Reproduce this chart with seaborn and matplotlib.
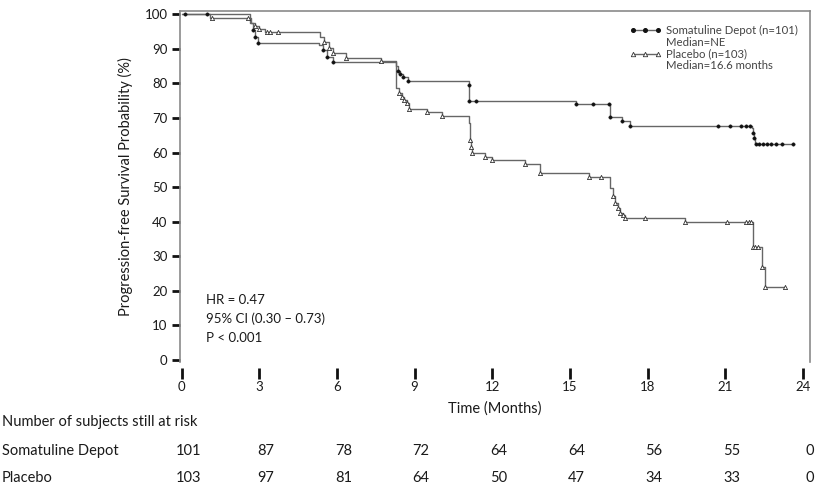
import numpy as np
import pandas as pd
import matplotlib
matplotlib.use("Agg")
import matplotlib.pyplot as plt
import matplotlib.transforms as mtransforms
from matplotlib.lines import Line2D
import seaborn as sns

# ---------------- data ----------------
soma_event_t = [0, 2.65, 2.75, 2.85, 2.97, 5.32, 5.45, 5.6, 5.86, 8.3, 8.36, 8.45, 8.55, 8.74,
                11.09, 11.12, 15.24, 16.56, 17.0, 17.3, 22.04, 22.08, 22.11, 22.15]
soma_event_s = [100, 97.5, 95.5, 93.5, 91.8, 91.0, 89.8, 87.7, 86.2, 84.9, 83.7, 82.8, 81.8, 80.6,
                79.6, 75.0, 73.9, 70.2, 69.1, 67.7, 67.1, 65.6, 64.1, 62.5]
soma_mark_t = [0.15, 1.0, 2.75, 2.85, 2.97, 5.45, 5.6, 5.86, 8.36, 8.45, 8.55, 8.74, 11.09, 11.12,
               11.37, 15.24, 15.88, 16.5, 16.56, 17.0, 17.3, 20.7, 21.18, 21.6, 21.78, 21.96,
               22.08, 22.11, 22.2, 22.3, 22.45, 22.6, 22.75, 22.95, 23.2, 23.6]

plac_event_t = [0, 1.1, 2.7, 2.85, 3.0, 3.23, 5.35, 5.5, 5.7, 5.86, 6.37, 7.72, 8.3, 8.4, 8.5, 8.6,
                8.7, 8.8, 9.49, 10.05, 11.09, 11.13, 11.16, 11.2, 11.7, 12.0, 13.27, 13.83, 15.73,
                16.56, 16.65, 16.75, 16.85, 16.95, 17.05, 17.14, 19.45, 22.08, 22.42, 22.55]
plac_event_s = [100, 99, 97.5, 96.5, 95.8, 94.8, 93.5, 92.0, 90.3, 88.8, 87.4, 86.5, 78.6, 77.2,
                76.2, 75.2, 74.3, 72.6, 71.8, 70.6, 68.5, 63.6, 61.5, 59.9, 58.7, 57.9, 56.6, 54.0,
                52.9, 49.6, 47.5, 45.5, 44.0, 42.5, 41.8, 41.2, 40.0, 32.6, 27.0, 21.1]
plac_mark_t = [1.18, 2.55, 2.85, 3.0, 3.3, 3.42, 3.74, 5.5, 5.7, 5.86, 6.37, 7.72, 8.4, 8.5, 8.6,
               8.7, 8.8, 9.49, 10.05, 11.13, 11.16, 11.2, 11.7, 12.0, 13.27, 13.83, 15.73, 16.2,
               16.65, 16.75, 16.85, 16.95, 17.05, 17.14, 17.9, 19.45, 21.05, 21.8, 21.9, 22.0,
               22.08, 22.15, 22.25, 22.42, 22.55, 23.3]

tick_months = [0, 3, 6, 9, 12, 15, 18, 21, 24]
y_ticks = [0, 10, 20, 30, 40, 50, 60, 70, 80, 90, 100]
risk_labels = ["Somatuline Depot", "Placebo"]
risk_soma = [101, 87, 78, 72, 64, 64, 56, 55, 0]
risk_plac = [103, 97, 81, 64, 50, 47, 34, 33, 0]
legend_labels = ["Somatuline Depot (n=101)", "Median=NE", "Placebo (n=103)", "Median=16.6 months"]
stats_text = ["HR = 0.47", "95% CI (0.30 \u2013 0.73)", "P < 0.001"]

# ---------------- helpers ----------------
def km_frame(t, s, end):
    return pd.DataFrame({"t": list(t) + [end], "s": list(s) + [s[-1]]})


def step_at(t, s, q):
    idx = np.searchsorted(np.asarray(t), np.asarray(q), side="right") - 1
    return np.asarray(s)[idx]


# ---------------- figure ----------------
sns.set_style("white")
plt.rcParams["font.family"] = ["Lato", "DejaVu Sans"]
TXT = "#1a1a1a"
LINE = "#666666"

fig = plt.figure(figsize=(8.15, 4.93), dpi=100)
ax = fig.add_axes([180 / 815, 1 - 362 / 493, 630 / 815, 351 / 493])

soma_df = km_frame(soma_event_t, soma_event_s, max(soma_mark_t))
plac_df = km_frame(plac_event_t, plac_event_s, max(plac_mark_t))

sns.lineplot(data=soma_df, x="t", y="s", ax=ax, drawstyle="steps-post", estimator=None,
             sort=False, color=LINE, lw=1.0)
sns.lineplot(data=plac_df, x="t", y="s", ax=ax, drawstyle="steps-post", estimator=None,
             sort=False, color=LINE, lw=1.0)

soma_marks = pd.DataFrame({"t": soma_mark_t,
                           "s": step_at(soma_event_t, soma_event_s, soma_mark_t)})
plac_marks = pd.DataFrame({"t": plac_mark_t,
                           "s": step_at(plac_event_t, plac_event_s, plac_mark_t)})
sns.scatterplot(data=soma_marks, x="t", y="s", ax=ax, marker="o", s=6, color="#111111",
                edgecolor="#111111", linewidth=0.3, zorder=3)
sns.scatterplot(data=plac_marks, x="t", y="s", ax=ax, marker="^", s=9, facecolor="white",
                edgecolor="#333333", linewidth=0.6, zorder=3)

ax.set_xlim(-0.06, 24.27)
ax.set_ylim(-0.6, 100.95)
ax.set_xticks(tick_months)
ax.set_yticks(y_ticks)
ax.set_xticklabels([str(v) for v in tick_months])
ax.set_yticklabels([str(v) for v in y_ticks])

for side in ["left", "top", "right"]:
    ax.spines[side].set_color("#8a8a8a")
    ax.spines[side].set_linewidth(1.2)
ax.spines["bottom"].set_position(("outward", 4))
ax.spines["bottom"].set_color("none")

ax.tick_params(axis="y", direction="out", length=6, width=2.0, color="#111111",
               labelsize=9.5, labelcolor=TXT, pad=3, left=True)
ax.tick_params(axis="x", direction="out", length=8, width=2.0, color="#111111",
               labelsize=9.5, labelcolor=TXT, pad=2, bottom=True)

ax.set_ylabel("Progression-free Survival Probability (%)", fontsize=10.5, color=TXT, labelpad=8)
ax.set_xlabel("Time (Months)", fontsize=10.5, color=TXT, labelpad=6)

# statistics text
for i, line in enumerate(stats_text):
    fig.text(206 / 815, 1 - (300 + 19 * i) / 493, line, fontsize=9.5, color=TXT,
             ha="left", va="center")

# legend (each arm: symbol line + median line)
h_soma = Line2D([], [], color=LINE, lw=1.0, marker="o", ms=2.6, mfc="#111111", mec="#111111")
h_plac = Line2D([], [], color=LINE, lw=1.0, marker="^", ms=3.2, mfc="white", mec="#333333",
                mew=0.6)
h_none = Line2D([], [], color="none")
leg = ax.legend([h_soma, h_none, h_plac, h_none], legend_labels, loc="upper right",
                bbox_to_anchor=(0.995, 0.985), frameon=False, fontsize=8.2, numpoints=3,
                handlelength=2.8, handletextpad=0.4, labelspacing=0.05, borderpad=0.3)
for t in leg.get_texts():
    t.set_color("#444444")

# number at risk table
trans = mtransforms.blended_transform_factory(ax.transData, fig.transFigure)
fig.text(2 / 815, 1 - 422 / 493, "Number of subjects still at risk", fontsize=10.5, color=TXT,
         ha="left", va="center")
for row, (label, values) in enumerate(zip(risk_labels, [risk_soma, risk_plac])):
    yy = 1 - (451 + 27 * row) / 493
    fig.text(2 / 815, yy, label, fontsize=10.5, color=TXT, ha="left", va="center")
    for xm, v in zip(tick_months, values):
        ax.text(xm + 0.25, yy, str(v), transform=trans, fontsize=10.5, color=TXT,
                ha="center", va="center", clip_on=False)

fig.savefig("out.png", dpi=100)
